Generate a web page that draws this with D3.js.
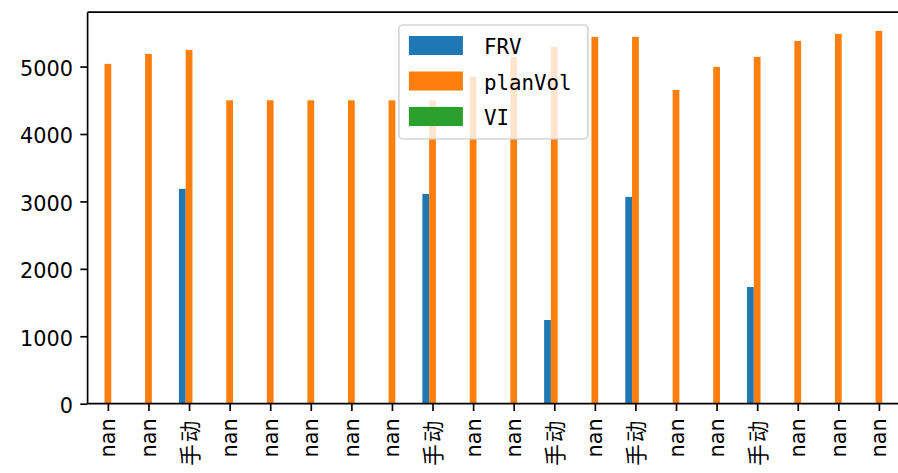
<!DOCTYPE html>
<html>
<head>
<meta charset="utf-8">
<script src="https://cdn.jsdelivr.net/npm/d3@7"></script>
<style>
  html, body { margin: 0; padding: 0; background: #fff; }
  svg { display: block; }
</style>
</head>
<body>
<svg id="chart" width="898" height="473"></svg>
<script>
const categories = ["nan","nan","手动","nan","nan","nan","nan","nan","手动","nan","nan","手动","nan","手动","nan","nan","手动","nan","nan","nan"];
const FRV = [null,null,3186,null,null,null,null,null,3111,null,null,1242,null,3067,null,null,1731,null,null,null];
const planVol = [5040,5188,5248,4500,4500,4500,4500,4500,4500,4847,5144,5292,5441,5441,4654,4996,5144,5381,5485,5530];
const VI = [null,null,null,null,null,null,null,null,null,null,null,null,null,null,null,null,null,null,null,null];
const seriesNames = ["FRV","planVol","VI"];
const seriesColors = ["#1f77b4","#ff7f0e","#2ca02c"];
const yTicks = [0,1000,2000,3000,4000,5000];

(function () {
const series = [FRV, planVol, VI];
const svg = d3.select("#chart");
const pL = 87.6, pR = 899.2, pT = 12.2, pB = 403.7;
const n = categories.length;

const x = d3.scaleLinear().domain([-0.5, n - 0.5]).range([pL, pR]);
const allVals = series.flat().filter(v => v != null);
const ymax = d3.max(allVals) * 1.05;
const y = d3.scaleLinear().domain([0, ymax]).range([pB, pT]);

const totalW = 0.5, bw = totalW / series.length;
const tickFont = "'DejaVu Sans', 'Noto Sans CJK SC', sans-serif";
const fs = 20.8;

// bars
series.forEach((vals, si) => {
  svg.append("g").selectAll("rect")
    .data(vals.map((v, i) => ({v, i})).filter(d => d.v != null))
    .join("rect")
    .attr("x", d => x(d.i - totalW / 2 + si * bw))
    .attr("width", d => x(bw) - x(0))
    .attr("y", d => y(d.v))
    .attr("height", d => y(0) - y(d.v))
    .attr("fill", seriesColors[si]);
});

// y axis
const yAxis = svg.append("g").attr("transform", `translate(${pL},0)`)
  .call(d3.axisLeft(y).tickValues(yTicks).tickSize(7.3).tickPadding(7.3).tickFormat(d3.format("d")));
yAxis.select(".domain").remove();
yAxis.selectAll(".tick line").attr("stroke", "#000").attr("stroke-width", 1.67);
yAxis.selectAll(".tick text").attr("font-family", tickFont).attr("font-size", fs)
  .attr("fill", "#000").attr("dy", "0.42em");

// x axis
const xAxis = svg.append("g").attr("transform", `translate(0,${pB})`)
  .call(d3.axisBottom(x).tickValues(d3.range(n)).tickSize(7.3).tickFormat(i => categories[i]));
xAxis.select(".domain").remove();
xAxis.selectAll(".tick line").attr("stroke", "#000").attr("stroke-width", 1.67);
xAxis.selectAll(".tick text")
  .attr("font-family", tickFont).attr("font-size", fs).attr("fill", "#000")
  .attr("text-anchor", "end")
  .attr("dy", null)
  .attr("y", null)
  .attr("transform", "translate(7,14.6) rotate(-90)");
// CJK labels: slightly larger glyph pitch, as in the reference font
xAxis.selectAll(".tick text")
  .filter(function () { return /[\u4e00-\u9fff]/.test(this.textContent); })
  .attr("font-size", 21.5)
  .attr("transform", "translate(8,15) rotate(-90)")
  .attr("letter-spacing", 2);

// spines
const sp = svg.append("g").attr("stroke", "#000").attr("stroke-width", 1.67).attr("fill", "none");
sp.append("line").attr("x1", pL).attr("x2", pL).attr("y1", pT).attr("y2", pB);
sp.append("line").attr("x1", pL).attr("x2", pR).attr("y1", pB).attr("y2", pB);
sp.append("line").attr("x1", pL).attr("x2", pR).attr("y1", pT).attr("y2", pT);
sp.append("line").attr("x1", pR).attr("x2", pR).attr("y1", pT).attr("y2", pB);

// legend (upper center)
const lgW = 189, lgH = 114;
const lgX = (pL + pR) / 2 - lgW / 2, lgY = 25;
const lg = svg.append("g");
lg.append("rect").attr("x", lgX).attr("y", lgY).attr("width", lgW).attr("height", lgH)
  .attr("rx", 4).attr("fill", "#fff").attr("fill-opacity", 0.8)
  .attr("stroke", "#ccc").attr("stroke-opacity", 0.8).attr("stroke-width", 1.67);
seriesNames.forEach((name, i) => {
  const cy = lgY + 20.5 + i * 35.5;
  lg.append("rect").attr("x", lgX + 10).attr("y", cy - 9.5).attr("width", 54).attr("height", 19)
    .attr("fill", seriesColors[i]);
  lg.append("text").attr("x", lgX + 85).attr("y", cy + 8.5)
    .attr("font-family", "'DejaVu Sans Mono', monospace").attr("font-size", fs)
    .attr("fill", "#000").text(name);
});
})();
</script>
</body>
</html>
